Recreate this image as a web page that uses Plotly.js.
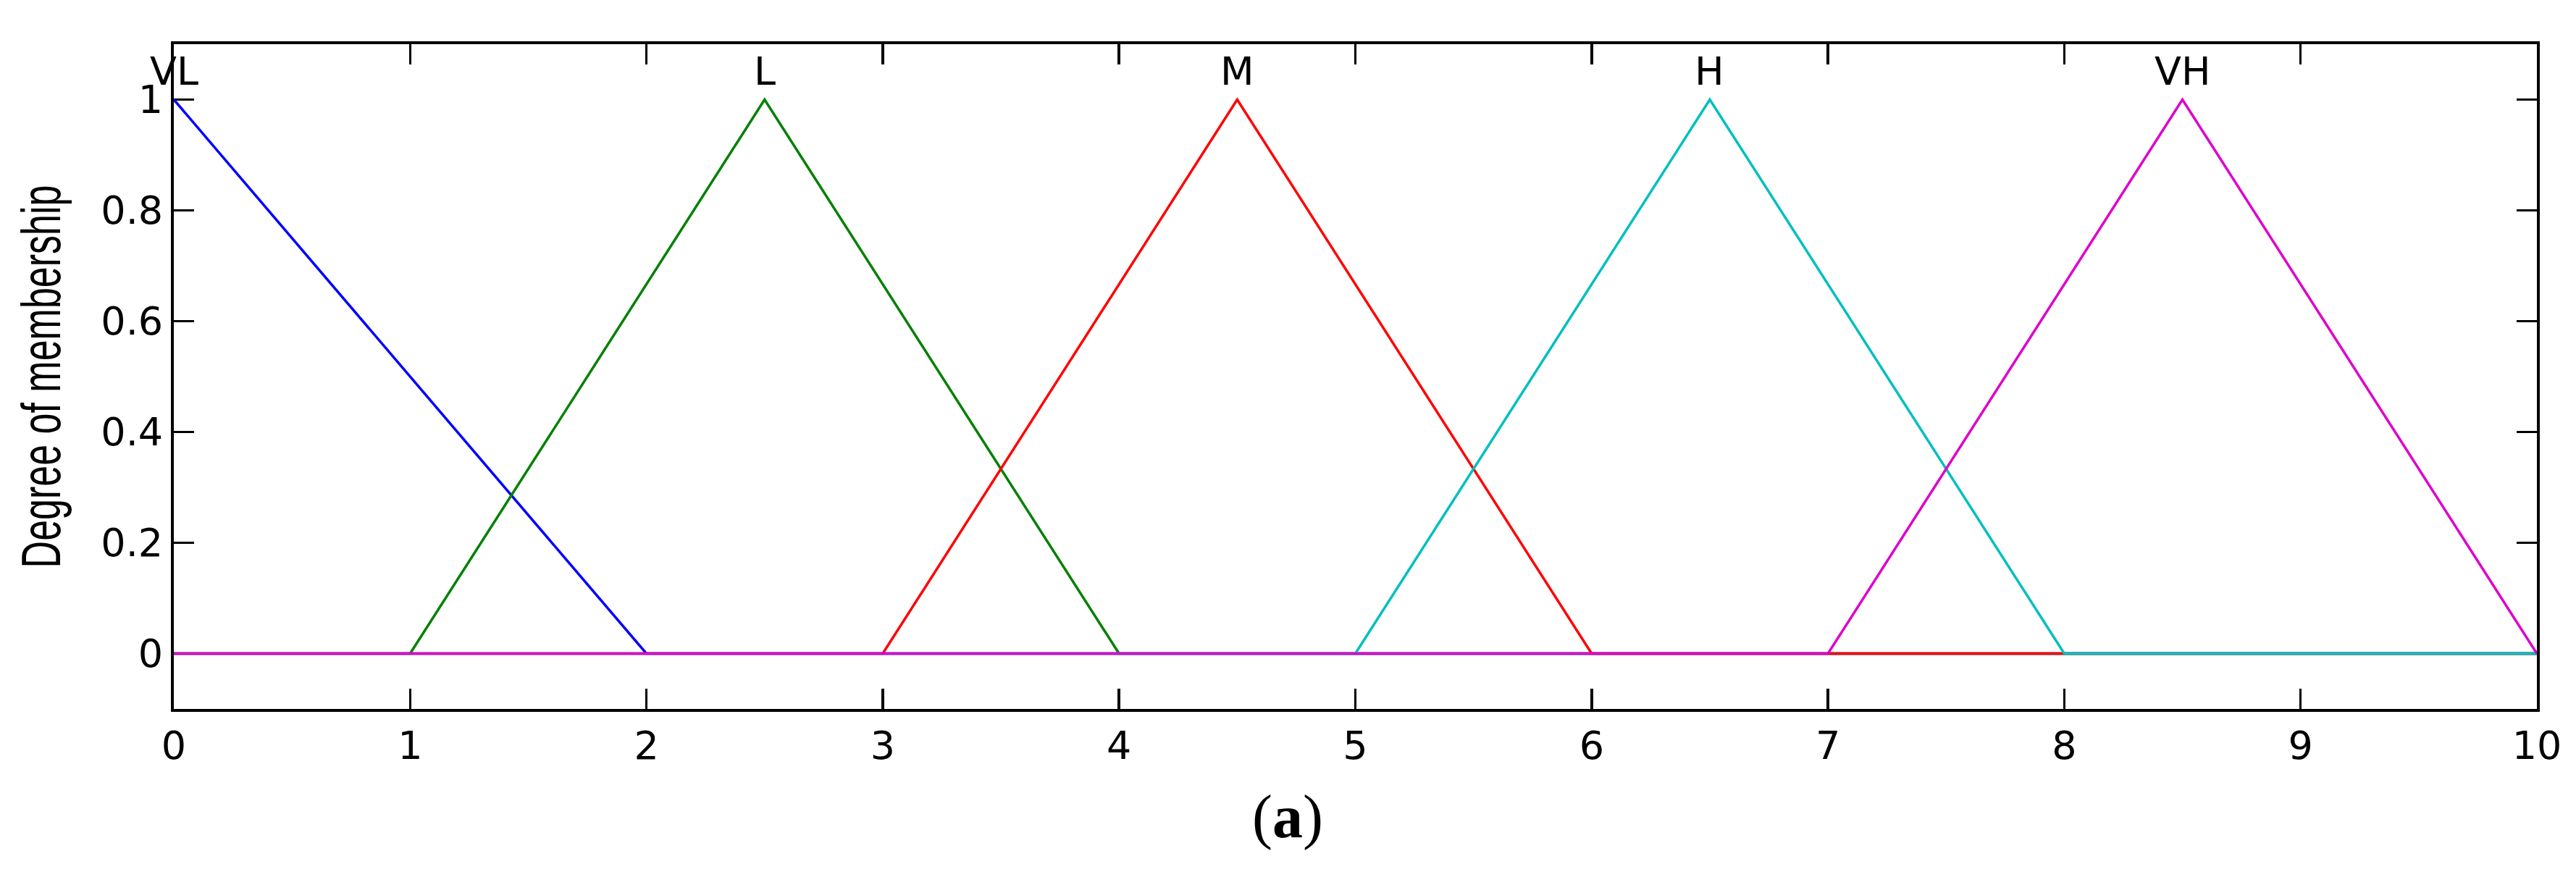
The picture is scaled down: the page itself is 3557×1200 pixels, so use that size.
<!DOCTYPE html>
<html>
<head>
<meta charset="utf-8">
<script src="https://cdn.plot.ly/plotly-3.0.1.min.js"></script>
<style>
html, body { margin: 0; padding: 0; background: #ffffff; }
#chart { width: 3557px; height: 1200px; }
</style>
</head>
<body>
<div id="chart"></div>
<script>
// Membership function names, peak positions and colours
const mfNames  = ['VL', 'L', 'M', 'H', 'VH'];
const mfPeaks  = [0, 2.5, 4.5, 6.5, 8.5];
const mfColors = ['#0000FF', '#008000', '#FF0000', '#00BFBF', '#DD00CC'];

// Vertices of each membership function
const vlX = [0, 2, 10];             const vlY = [1, 0, 0];
const lX  = [0, 1, 2.5, 4, 10];     const lY  = [0, 0, 1, 0, 0];
const mX  = [0, 3, 4.5, 6, 10];     const mY  = [0, 0, 1, 0, 0];
const hX  = [0, 5, 6.5, 8, 10];     const hY  = [0, 0, 1, 0, 0];
const vhX = [0, 7, 8.5, 10];        const vhY = [0, 0, 1, 0];

// Axis ticks
const xTickVals   = [0, 1, 2, 3, 4, 5, 6, 7, 8, 9, 10];
const xTickLabels = ['0', '1', '2', '3', '4', '5', '6', '7', '8', '9', '10'];
const yTickVals   = [0, 0.2, 0.4, 0.6, 0.8, 1];
const yTickLabels = ['0', '0.2', '0.4', '0.6', '0.8', '1'];

const yTitleText = 'Degree of membership';
const captionText = '(<b>a</b>)';

const seriesX = [vlX, lX, mX, hX, vhX];
const seriesY = [vlY, lY, mY, hY, vhY];

const traces = seriesX.map((xs, i) => ({
  type: 'scatter',
  mode: 'lines',
  x: xs,
  y: seriesY[i],
  name: mfNames[i],
  line: { color: mfColors[i], width: 3.5 },
  hoverinfo: 'skip',
  showlegend: false,
  cliponaxis: false
}));

const tickFont = { family: 'DejaVu Sans, Liberation Sans, Arial, sans-serif', size: 54, color: '#000000' };

const annotations = mfNames.map((n, i) => ({
  x: mfPeaks[i], y: 1, xref: 'x', yref: 'y',
  text: n, showarrow: false,
  xanchor: 'center', yanchor: 'bottom', yshift: 6,
  font: tickFont
}));

annotations.push({
  x: 0.4713, y: -0.216, xref: 'paper', yref: 'paper',
  text: captionText, showarrow: false,
  xanchor: 'center', yanchor: 'bottom',
  font: { family: 'Liberation Serif, Times New Roman, serif', size: 84, color: '#000000' }
});

const layout = {
  width: 3557,
  height: 1200,
  margin: { l: 240, r: 54, t: 61, b: 221, pad: 0 },
  paper_bgcolor: '#ffffff',
  plot_bgcolor: '#ffffff',
  showlegend: false,
  xaxis: {
    range: [0, 10],
    tickmode: 'array', tickvals: xTickVals, ticktext: xTickLabels,
    ticks: 'inside', ticklen: 28, tickwidth: 3.5, tickcolor: '#000000',
    showline: true, linewidth: 4, linecolor: '#000000', mirror: 'ticks',
    showgrid: false, zeroline: false, layer: 'below traces',
    tickfont: tickFont
  },
  yaxis: {
    range: [-0.1, 1.1],
    tickmode: 'array', tickvals: yTickVals, ticktext: yTickLabels,
    ticks: 'inside', ticklen: 28, tickwidth: 3.5, tickcolor: '#000000',
    showline: true, linewidth: 4, linecolor: '#000000', mirror: 'ticks',
    showgrid: false, zeroline: false, layer: 'below traces',
    tickfont: tickFont,
    title: { text: yTitleText, font: { family: 'Liberation Sans, Arial, sans-serif', size: 52, color: '#000000' } }
  },
  annotations: annotations
};

Plotly.newPlot('chart', traces, layout, { staticPlot: true, displayModeBar: false }).then(gd => {
  // The reference's axis title glyphs are stretched across the line direction
  const t = gd.querySelector('.ytitle');
  if (t) {
    t.setAttribute('x', 0);
    t.setAttribute('y', 0);
    t.querySelectorAll('tspan').forEach(s => {
      if (s.hasAttribute('x')) s.setAttribute('x', 0);
      if (s.hasAttribute('y')) s.setAttribute('y', 0);
    });
    t.setAttribute('transform', 'translate(83,520) rotate(-90) scale(1,1.45)');
  }
});
</script>
</body>
</html>
